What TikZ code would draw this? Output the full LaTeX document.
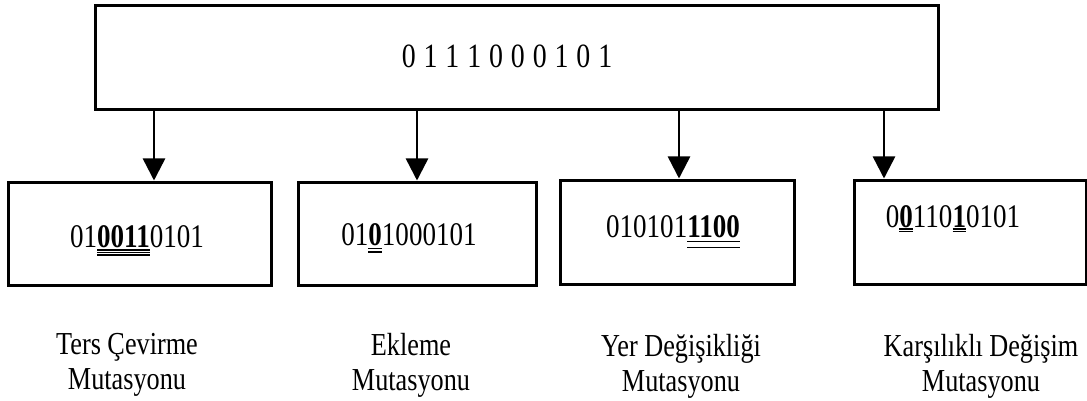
\documentclass[tikz,border=0pt]{standalone}
\usepackage{fontspec}
\setmainfont{Liberation Serif}[FakeStretch=0.82]
\usetikzlibrary{arrows.meta}

% gap between the spaced-out digits of the source string
\newcommand\bitgap{\hspace{7.9pt}}
% bold digits with two underlines (#2, #3: depth of each line below the baseline)
\newcommand\dblul[3]{%
  \setbox0\hbox{\bfseries #1}%
  \rlap{\rule[-#2]{\wd0}{1.1pt}}\rlap{\rule[-#3]{\wd0}{1.1pt}}\box0\relax}
% bold digits with three underlines
\newcommand\trpul[1]{%
  \setbox0\hbox{\bfseries #1}%
  \rlap{\rule[-3.5pt]{\wd0}{1.1pt}}\rlap{\rule[-6pt]{\wd0}{1.1pt}}%
  \rlap{\rule[-8.5pt]{\wd0}{1.1pt}}\box0\relax}

\tikzset{
  box/.style={draw=black, line width=3pt, rectangle, inner sep=0pt},
  bits/.style={font=\fontsize{33pt}{38pt}\selectfont, inner sep=0pt, anchor=base},
  caption/.style={font=\fontsize{32pt}{35pt}\selectfont, align=center,
    inner sep=0pt, anchor=base},
  arr/.style={line width=2.5pt, -{Triangle[width=22pt,length=22pt]}},
}

\begin{document}
\begin{tikzpicture}[x=1pt, y=-1pt]
\useasboundingbox[fill=white] (0,0) rectangle (1087,401);

% source chromosome
\node[box, minimum width=843pt, minimum height=104pt] (top) at (516.5,58) {};
\node[bits, font=\fontsize{34pt}{40pt}\selectfont] (topbits) at (507,68)
  {0\bitgap1\bitgap1\bitgap1\bitgap0\bitgap0\bitgap0\bitgap1\bitgap0\bitgap1};

% mutated chromosomes
\node[box, minimum width=263pt, minimum height=103pt] (b1) at (139.5,233.5) {};
\node[box, minimum width=238pt, minimum height=103pt] (b2) at (417,233.5) {};
\node[box, minimum width=234pt, minimum height=104pt] (b3) at (677,232) {};
\node[box, minimum width=232pt, minimum height=104pt] (b4) at (970,232) {};

\node[bits] (t1) at (137,247) {01\trpul{0011}0101};
\node[bits] (t2) at (409,245) {01\dblul{0}{4pt}{7.5pt}1000101};
\node[bits] (t3) at (673,237) {010101\dblul{1100}{5pt}{11pt}};
\node[bits] (t4) at (953,227) {0\dblul{0}{2.5pt}{5pt}110\dblul{1}{2.5pt}{5pt}0101};

% arrows from the source to each mutation
\coordinate (a1) at (154,0);
\coordinate (a2) at (417,0);
\coordinate (a3) at (679,0);
\coordinate (a4) at (884,0);
\draw[arr] (top.south -| a1) -- (b1.north -| a1);
\draw[arr] (top.south -| a2) -- (b2.north -| a2);
\draw[arr] (top.south -| a3) -- (b3.north -| a3);
\draw[arr] (top.south -| a4) -- (b4.north -| a4);

% captions (anchored at the baseline of their last line)
\node[caption] (c1) at (127,389) {Ters Çevirme\\Mutasyonu};
\node[caption] (c2) at (411,390) {Ekleme\\Mutasyonu};
\node[caption] (c3) at (681,391) {Yer Değişikliği\\Mutasyonu};
\node[caption] (c4) at (981,391) {Karşılıklı Değişim\\Mutasyonu};
\end{tikzpicture}
\end{document}
